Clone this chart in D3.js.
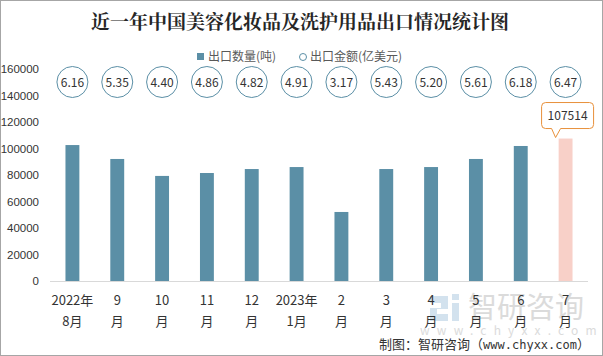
<!DOCTYPE html>
<html>
<head>
<meta charset="utf-8">
<script src="https://cdn.jsdelivr.net/npm/d3@7"></script>
<style>
  body { margin: 0; background: #fff; }
  text { font-family: "Microsoft YaHei", "Noto Sans CJK SC", sans-serif; }
</style>
</head>
<body>
<div id="chart"></div>
<script>
// months, two-line labels
const months = ["2022年|8月", "9|月", "10|月", "11|月", "12|月", "2023年|1月", "2|月", "3|月", "4|月", "5|月", "6|月", "7|月"];
// export quantity (tonnes)
const quantity = [102600, 92100, 79300, 81500, 84500, 86000, 52100, 84500, 86000, 92100, 101900, 107514];
// export value (100 million USD)
const amount = ["6.16", "5.35", "4.40", "4.86", "4.82", "4.91", "3.17", "5.43", "5.20", "5.61", "6.18", "6.47"];
const yTicks = [0, 20000, 40000, 60000, 80000, 100000, 120000, 140000, 160000];

(function(){
  const width = 603, height = 356;
  const svg = d3.select("#chart").append("svg")
      .attr("width", width)
      .attr("height", height);

  // frame
  svg.append("rect")
      .attr("x", 0.5).attr("y", 0.5)
      .attr("width", width - 1).attr("height", height - 1)
      .attr("fill", "#fff").attr("stroke", "#a6a6a6");

  // title
  svg.append("text")
      .attr("x", 300).attr("y", 29)
      .attr("text-anchor", "middle")
      .attr("font-size", 19).attr("font-weight", "bold")
      .attr("fill", "#262626")
      .style("font-family", "'Noto Serif CJK SC', 'Noto Sans CJK SC', serif")
      .text("近一年中国美容化妆品及洗护用品出口情况统计图");

  const x = d3.scaleBand()
      .domain(months)
      .range([50, 588])
      .paddingInner(0.69)
      .paddingOuter(0.345);

  const y = d3.scaleLinear()
      .domain([0, 160000])
      .range([281, 69]);

  // watermark
  const wm = svg.append("g").attr("opacity", 0.6);
  wm.append("path")
      .attr("d", "M430,296 h18 v13 h-11 v5 h11 v7 h-18 v-13 h11 v-5 h-11 z")
      .attr("fill", "#b7d0e4");
  wm.append("path")
      .attr("d", "M452,303 h7 v18 h-7 z M452,294 h7 v6 h-7 z")
      .attr("fill", "#b7d0e4");
  wm.append("text")
      .attr("x", 468).attr("y", 318)
      .attr("font-size", 29).attr("fill", "#c4c4c4")
      .text("智研咨询");
  wm.append("text")
      .attr("x", 420).attr("y", 335)
      .attr("font-size", 12).attr("fill", "#c4c4c4")
      .attr("letter-spacing", 7.2)
      .text("www.chyxx.com");

  // y axis
  const yAxis = svg.append("g")
      .call(d3.axisLeft(y).tickValues(yTicks).tickFormat(d3.format("d")).tickSize(0).tickPadding(0))
      .attr("transform", "translate(39,0)");
  yAxis.select(".domain").remove();
  yAxis.selectAll("text")
      .attr("font-size", 11.5)
      .attr("fill", "#333")
      .style("font-family", "'Liberation Sans', Arial, sans-serif");

  // baseline
  svg.append("line")
      .attr("x1", 50).attr("x2", 588)
      .attr("y1", y(0) + 0.5).attr("y2", y(0) + 0.5)
      .attr("stroke", "#d9d9d9");

  // bars
  svg.selectAll("rect.bar")
      .data(quantity)
      .join("rect")
      .attr("class", "bar")
      .attr("x", (d, i) => x(months[i]))
      .attr("y", d => y(d))
      .attr("width", x.bandwidth())
      .attr("height", d => y(0) - y(d))
      .attr("fill", (d, i) => i === quantity.length - 1 ? "#f8d0c8" : "#5b8fa6");

  // amount circles
  const circ = svg.selectAll("g.amt")
      .data(amount)
      .join("g")
      .attr("class", "amt")
      .attr("transform", (d, i) => `translate(${x(months[i]) + x.bandwidth() / 2},82)`);
  circ.append("circle")
      .attr("r", 15.5)
      .attr("fill", "#fff")
      .attr("stroke", "#5b8fa6");
  circ.append("text")
      .attr("y", 4.5)
      .attr("text-anchor", "middle")
      .attr("font-size", 12)
      .attr("fill", "#333")
      .text(d => d);

  // callout for last bar
  const last = quantity.length - 1;
  const cx = x(months[last]) + x.bandwidth() / 2;
  const top = y(quantity[last]);
  const bx0 = cx - 24, bx1 = cx + 28, by0 = top - 36, by1 = top - 10, r = 4;
  const tip = cx - 10;
  svg.append("path")
      .attr("d", `M${bx0 + r},${by0} H${bx1 - r} Q${bx1},${by0} ${bx1},${by0 + r} V${by1 - r} Q${bx1},${by1} ${bx1 - r},${by1}
        H${tip + 5} L${tip},${top - 1} L${tip - 4},${by1} H${bx0 + r} Q${bx0},${by1} ${bx0},${by1 - r} V${by0 + r} Q${bx0},${by0} ${bx0 + r},${by0} Z`)
      .attr("fill", "#fff")
      .attr("stroke", "#e8903a");
  svg.append("text")
      .attr("x", (bx0 + bx1) / 2).attr("y", by0 + 17.5)
      .attr("text-anchor", "middle")
      .attr("font-size", 12)
      .attr("fill", "#333")
      .text(quantity[last]);

  // x labels
  const xl = svg.selectAll("text.xl")
      .data(months)
      .join("text")
      .attr("class", "xl")
      .attr("text-anchor", "middle")
      .attr("font-size", 13)
      .attr("fill", "#333");
  xl.append("tspan")
      .attr("x", d => x(d) + x.bandwidth() / 2)
      .attr("y", 305)
      .text(d => d.split("|")[0]);
  xl.append("tspan")
      .attr("x", d => x(d) + x.bandwidth() / 2)
      .attr("y", 326)
      .text(d => d.split("|")[1]);

  // legend
  const lg = svg.append("g");
  lg.append("rect").attr("x", 197).attr("y", 53).attr("width", 7).attr("height", 7).attr("fill", "#5b8fa6");
  lg.append("text").attr("x", 208).attr("y", 61).attr("font-size", 12).attr("fill", "#595959").text("出口数量(吨)");
  lg.append("circle").attr("cx", 303).attr("cy", 57).attr("r", 3.5).attr("fill", "#fff").attr("stroke", "#5b8fa6");
  lg.append("text").attr("x", 310).attr("y", 61).attr("font-size", 12).attr("fill", "#595959").text("出口金额(亿美元)");

  // source
  const src = svg.append("text")
      .attr("x", 590).attr("y", 349)
      .attr("text-anchor", "end")
      .attr("font-size", 13)
      .attr("fill", "#333");
  src.append("tspan").text("制图：智研咨询（");
  src.append("tspan").style("font-family", "'DejaVu Sans Mono', 'Liberation Mono', monospace").attr("font-size", 12).text("www.chyxx.com");
  src.append("tspan").text("）");
})();
</script>
</body>
</html>
